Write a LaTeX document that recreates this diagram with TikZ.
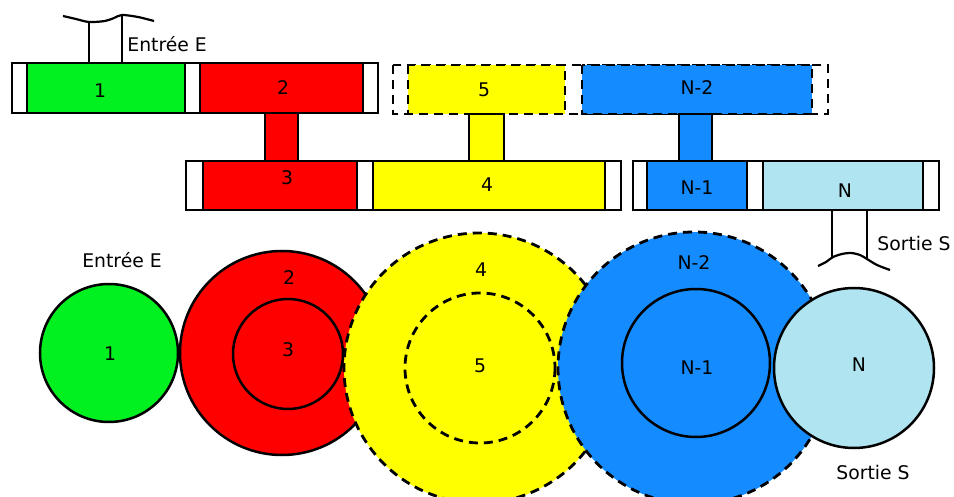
\documentclass[tikz,border=0pt]{standalone}
\usepackage{fontspec}
\setmainfont{DejaVu Sans}
\usepackage{xcolor}
\usepackage{tikz}

\definecolor{vert}{RGB}{0,240,32}
\definecolor{rouge}{RGB}{255,0,0}
\definecolor{jaune}{RGB}{255,255,0}
\definecolor{bleu}{RGB}{20,140,255}
\definecolor{bleuclair}{RGB}{176,228,240}

\tikzset{
	bloc/.style={draw=black, line width=1.3pt},
	pointille/.style={draw=black, line width=1.4pt, dash pattern=on 4.5pt off 3pt},
	roue/.style={draw=black, line width=1.25pt},
	rouep/.style={draw=black, line width=1.4pt, dash pattern=on 4.5pt off 3pt},
	txt/.style={font=\fontsize{9.4}{11}\selectfont, inner sep=0pt}
}

\begin{document}
\begin{tikzpicture}[x=0.5pt,y=-0.5pt]

\clip (0,0) rectangle (954,497);
\fill[white] (0,0) rectangle (954,497);

\draw[bloc, fill=white] (12,63) rectangle (378,113);
\draw[bloc, fill=vert] (27,63) rectangle (185,113);
\draw[bloc, fill=rouge] (200,63) rectangle (363,113);

\draw[pointille] (393,65) rectangle (828,114);
\draw[pointille, fill=jaune] (408,65) rectangle (565,114);
\draw[pointille, fill=bleu] (582,65) rectangle (812,114);

\draw[bloc, fill=white] (186,161) rectangle (621,210);
\draw[bloc, fill=rouge] (203,161) rectangle (357,210);
\draw[bloc, fill=jaune] (373,161) rectangle (605,210);

\draw[bloc, fill=white] (633,161) rectangle (939,210);
\draw[bloc, fill=bleu] (647,161) rectangle (747,210);
\draw[bloc, fill=bleuclair] (763,161) rectangle (923,210);

\draw[bloc, fill=rouge] (265,113) rectangle (298,161);
\draw[bloc, fill=jaune] (469,114) rectangle (504,161);
\draw[bloc, fill=bleu] (679,114) rectangle (712,161);

\node[txt] (b1) at (100,91) {1};
\node[txt] (b2) at (283,88) {2};
\node[txt] (b3) at (287,178) {3};
\node[txt] (b4) at (487,185) {4};
\node[txt] (b5) at (484,90) {5};
\node[txt] (bn2) at (697,88) {N-2};
\node[txt] (bn1) at (697,188) {N-1};
\node[txt] (bn) at (845,191) {N};

\draw[line width=1.1pt] (89,63)--(89,22);
\draw[line width=1.1pt] (122,63)--(122,15);
\draw[line width=1.1pt] plot[smooth] coordinates {(63,16) (76,19) (89,22) (105,21) (114,18) (122,15) (138,17) (154,21)};
\node[txt, anchor=west] (entree) at (127,44) {Entrée E};

\draw[line width=1.1pt] (832,210)--(832,258);
\draw[line width=1.1pt] (867,210)--(867,259);
\draw[line width=1.1pt] plot[smooth] coordinates {(818,266) (826,262) (833,257) (842,254) (851,253) (860,255) (867,259) (877,265) (890,270)};
\node[txt, anchor=west] (sortie) at (877,243) {Sortie S};

\draw[roue, fill=vert] (109,353) circle (69);
\draw[roue, fill=rouge] (282,353) circle (102);
\draw[roue] (288,354) circle (55);
\draw[rouep, fill=jaune] (479,368) circle (135);
\draw[rouep] (480,368) circle (75);
\draw[rouep, fill=bleu] (694,368) circle (136);
\draw[roue] (696,363) circle (74);
\draw[roue, fill=bleuclair] (854,368) circle (80);

\node[txt] (c1) at (110,354) {1};
\node[txt] (c2) at (289,278) {2};
\node[txt] (c3) at (288,350) {3};
\node[txt] (c4) at (481,270) {4};
\node[txt] (c5) at (480,366) {5};
\node[txt] (cn2) at (694,263) {N-2};
\node[txt] (cn1) at (697,368) {N-1};
\node[txt] (cn) at (859,365) {N};
\node[txt] (entree2) at (122,260) {Entrée E};
\node[txt] (sortie2) at (873,472) {Sortie S};

\end{tikzpicture}
\end{document}
